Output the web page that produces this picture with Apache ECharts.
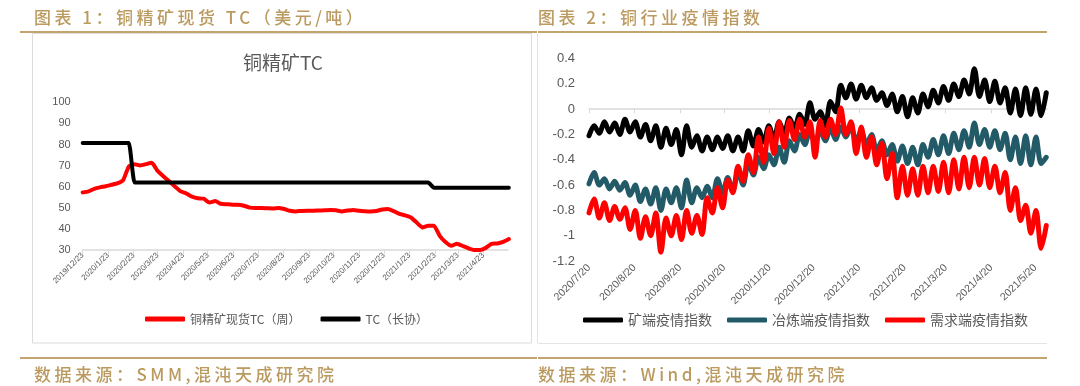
<!DOCTYPE html>
<html><head><meta charset="utf-8">
<script src="https://cdn.jsdelivr.net/npm/echarts@6/dist/echarts.min.js"></script>
<style>
html,body{margin:0;padding:0;background:#fff;}
#c{width:1080px;height:386px;position:absolute;left:0;top:0;}
.hd{position:absolute;font-family:"Noto Sans CJK SC","Noto Sans",sans-serif;color:#bb9a5f;font-size:17px;font-weight:500;letter-spacing:3.5px;white-space:nowrap;line-height:20px;}
</style></head><body>
<div id="c"></div>
<div class="hd" style="left:34px;top:7px">图表 1：铜精矿现货 TC（美元/吨）</div>
<div class="hd" style="left:538px;top:7px">图表 2：铜行业疫情指数</div>
<div class="hd" style="left:34px;top:364px">数据来源：SMM,混沌天成研究院</div>
<div class="hd" style="left:538px;top:364px">数据来源：Wind,混沌天成研究院</div>
<script>
// ---------- Chart 1: copper concentrate TC (weekly) ----------
const spotStart = '2019/12/23';
const spotTC = [57.3,57.8,59.0,59.7,60.2,60.9,61.6,63.0,69.5,70.6,
70.1,70.7,71.3,67.5,65.0,62.6,60.1,57.8,56.8,55.3,
54.5,54.3,52.5,53.2,51.9,51.7,51.5,51.5,51.0,50.1,
49.9,49.9,49.8,49.7,49.9,49.4,48.6,48.3,48.5,48.6,
48.6,48.7,48.8,49.0,48.8,48.3,48.7,49.0,48.6,48.4,
48.3,48.5,49.2,49.4,48.4,47.1,46.4,45.4,43.0,40.7,
41.5,41.5,36.7,33.8,32.0,33.0,31.9,30.8,30.0,30.0,
31.0,32.9,33.1,33.8,35.2];
const longTC = [80.75,80.75,80.75,80.75,80.75,80.75,80.75,80.75,80.75,
62,62,62,62,62,62,62,62,62,62,62,62,62,62,62,62,62,62,62,62,62,62,62,62,62,62,
62,62,62,62,62,62,62,62,62,62,62,62,62,62,62,62,62,62,62,62,62,62,62,62,62,62,
59.5,59.5,59.5,59.5,59.5,59.5,59.5,59.5,59.5,59.5,59.5,59.5,59.5,59.5];
const tcTicks = ['2019/12/23','2020/1/23','2020/2/23','2020/3/23','2020/4/23','2020/5/23','2020/6/23',
'2020/7/23','2020/8/23','2020/9/23','2020/10/23','2020/11/23','2020/12/23','2021/1/23','2021/2/23',
'2021/3/23','2021/4/23'];
const tcAxisEnd = '2021/5/23';

// ---------- Chart 2: copper industry epidemic indices (half-weekly) ----------
const idxStart = '2020/7/20';
const mineIdx = [-0.21,-0.13,-0.19,-0.10,-0.18,-0.11,-0.20,-0.08,-0.18,-0.10,
-0.22,-0.12,-0.25,-0.13,-0.30,-0.15,-0.28,-0.16,-0.36,-0.13,
-0.30,-0.21,-0.33,-0.22,-0.32,-0.22,-0.31,-0.21,-0.33,-0.22,
-0.33,-0.17,-0.29,-0.16,-0.26,-0.13,-0.24,-0.10,-0.19,-0.07,
-0.15,-0.04,-0.12,0.05,-0.08,-0.02,-0.13,0.06,-0.02,0.19,
0.09,0.20,0.08,0.19,0.09,0.17,0.07,0.13,0.03,0.12,
-0.02,0.10,-0.06,0.09,-0.03,0.12,0.02,0.15,0.05,0.18,
0.07,0.20,0.10,0.23,0.12,0.32,0.10,0.23,0.06,0.22,
0.05,0.17,-0.03,0.16,-0.05,0.17,-0.04,0.16,-0.05,0.13];
const smeltIdx = [-0.59,-0.50,-0.60,-0.55,-0.63,-0.57,-0.64,-0.58,-0.68,-0.60,
-0.73,-0.63,-0.75,-0.62,-0.80,-0.63,-0.74,-0.62,-0.78,-0.56,
-0.74,-0.62,-0.70,-0.61,-0.70,-0.55,-0.66,-0.54,-0.64,-0.50,
-0.60,-0.42,-0.52,-0.38,-0.47,-0.36,-0.44,-0.30,-0.42,-0.25,
-0.33,-0.20,-0.28,-0.17,-0.27,-0.17,-0.25,-0.15,-0.24,-0.14,
-0.22,-0.14,-0.25,-0.17,-0.28,-0.20,-0.33,-0.25,-0.36,-0.28,
-0.41,-0.29,-0.43,-0.30,-0.44,-0.28,-0.38,-0.24,-0.36,-0.21,
-0.35,-0.19,-0.32,-0.17,-0.30,-0.11,-0.28,-0.16,-0.30,-0.17,
-0.32,-0.19,-0.40,-0.22,-0.43,-0.21,-0.44,-0.22,-0.43,-0.38];
const demandIdx = [-0.82,-0.71,-0.86,-0.74,-0.88,-0.77,-0.87,-0.78,-0.95,-0.80,
-1.02,-0.85,-1.00,-0.82,-1.13,-0.86,-1.00,-0.84,-1.03,-0.80,
-0.98,-0.84,-0.99,-0.70,-0.82,-0.62,-0.78,-0.56,-0.66,-0.45,
-0.57,-0.36,-0.50,-0.22,-0.42,-0.15,-0.35,-0.10,-0.30,-0.09,
-0.24,-0.08,-0.22,-0.10,-0.38,-0.09,-0.22,-0.08,-0.20,0.01,
-0.20,-0.10,-0.35,-0.14,-0.38,-0.22,-0.44,-0.27,-0.55,-0.35,
-0.70,-0.45,-0.68,-0.47,-0.68,-0.45,-0.66,-0.45,-0.65,-0.42,
-0.66,-0.40,-0.63,-0.38,-0.62,-0.38,-0.60,-0.39,-0.62,-0.45,
-0.66,-0.50,-0.80,-0.62,-0.88,-0.76,-0.98,-0.80,-1.10,-0.92];
const idxTicks = ['2020/7/20','2020/8/20','2020/9/20','2020/10/20','2020/11/20','2020/12/20',
'2021/1/20','2021/2/20','2021/3/20','2021/4/20','2021/5/20'];
const idxAxisEnd = '2021/5/28';

// ---------- helpers ----------
const DAY = 86400000;
function parseD(s){const p=s.split('/').map(Number);return new Date(p[0],p[1]-1,p[2]).getTime();}
const t1 = parseD(spotStart), t2 = parseD(idxStart);
const asWeekly = arr => arr.map((v,i)=>[t1 + i*7*DAY, v]);
const asHalfWeek = arr => arr.map((v,i)=>[t2 + i*3.5*DAY, v]);
const tcTickTs = tcTicks.map(parseD);
const idxTickTs = idxTicks.map(parseD);
const tcLabel = v => { const k = tcTickTs.indexOf(v); return k >= 0 ? tcTicks[k] : ''; };
const idxLabel = v => { const k = idxTickTs.indexOf(v); return k >= 0 ? idxTicks[k] : ''; };

const GRAY = '#595959', AX = '#d9d9d9';
const CJK = '"Noto Sans CJK SC", "Liberation Sans", sans-serif';
const chart = echarts.init(document.getElementById('c'));
const lineS = (name, data, color, xi, w) => ({
  name, type:'line', data, xAxisIndex:xi, yAxisIndex:xi, symbol:'none', smooth: xi===1 ? 0.3 : 0.15,
  lineStyle:{color, width:w, cap:'round', join:'round'}, itemStyle:{color}
});
chart.setOption({
  animation:false,
  textStyle:{fontFamily:CJK},
  grid:[
    {left:82.7, right:572, top:102.3, bottom:136},
    {left:589, right:33, top:58.6, bottom:125}
  ],
  xAxis:[
    {type:'value', gridIndex:0, min:parseD(spotStart), max:parseD(tcAxisEnd), scale:true,
     axisLine:{lineStyle:{color:AX,width:1.5}},
     axisTick:{show:true, customValues:tcTickTs, length:4, lineStyle:{color:AX}},
     axisLabel:{customValues:tcTickTs, formatter:tcLabel, rotate:45, fontSize:8, color:GRAY, margin:4, fontFamily:'"Liberation Sans", sans-serif'},
     splitLine:{show:false}},
    {type:'value', gridIndex:1, min:parseD(idxStart), max:parseD(idxAxisEnd), scale:true,
     axisLine:{lineStyle:{color:AX,width:1.5}},
     axisTick:{show:true, customValues:idxTickTs, length:4, lineStyle:{color:AX}},
     axisLabel:{customValues:idxTickTs, formatter:idxLabel, rotate:45, fontSize:10.5, color:GRAY, margin:5, fontFamily:'"Liberation Sans", sans-serif'},
     splitLine:{show:false}}
  ],
  yAxis:[
    {type:'value', gridIndex:0, min:30, max:100, interval:10,
     axisLine:{show:false}, axisTick:{show:false}, splitLine:{show:false},
     axisLabel:{fontSize:11, color:GRAY, margin:12, fontFamily:'"Liberation Sans", sans-serif'}},
    {type:'value', gridIndex:1, min:-1.2, max:0.4, interval:0.2,
     axisLine:{show:false}, axisTick:{show:false}, splitLine:{show:false},
     axisLabel:{fontSize:13, color:GRAY, margin:14, fontFamily:'"Liberation Sans", sans-serif',
       formatter:v=>String(Math.round(v*10)/10)}}
  ],
  legend:[
    {data:['铜精矿现货TC（周）','TC（长协）'], left:140, top:308, icon:'roundRect',
     itemWidth:40, itemHeight:5, itemGap:20, textStyle:{fontSize:12, color:GRAY}},
    {data:['矿端疫情指数','冶炼端疫情指数','需求端疫情指数'], left:578, top:308, icon:'roundRect',
     itemWidth:40, itemHeight:5, itemGap:15, textStyle:{fontSize:14, color:GRAY}}
  ],
  graphic:[
    {type:'line', shape:{x1:20,y1:32,x2:537,y2:32}, style:{stroke:'#c3a46c', lineWidth:2}},
    {type:'line', shape:{x1:538,y1:32,x2:1047,y2:32}, style:{stroke:'#c3a46c', lineWidth:2}},
    {type:'line', shape:{x1:20,y1:358,x2:537,y2:358}, style:{stroke:'#c3a46c', lineWidth:2}},
    {type:'line', shape:{x1:538,y1:358,x2:1047,y2:358}, style:{stroke:'#c3a46c', lineWidth:2}},
    {type:'rect', shape:{x:32.5,y:33.5,width:499,height:309.5}, style:{fill:'none', stroke:'#dcdcdc', lineWidth:1}},
    {type:'line', shape:{x1:537.5,y1:33,x2:537.5,y2:343}, style:{stroke:'#e4e4e4', lineWidth:1}},
    {type:'line', shape:{x1:538,y1:343.5,x2:1047,y2:343.5}, style:{stroke:'#e4e4e4', lineWidth:1}},
    {type:'text', x:283, y:63, style:{text:'铜精矿TC', fill:GRAY, font:'19px "Noto Sans CJK SC"', align:'center', verticalAlign:'middle'}}
  ],
  series:[
    lineS('铜精矿现货TC（周）', asWeekly(spotTC), '#ff0000', 0, 4),
    lineS('TC（长协）', asWeekly(longTC), '#000000', 0, 4),
    lineS('矿端疫情指数', asHalfWeek(mineIdx), '#000000', 1, 5),
    lineS('冶炼端疫情指数', asHalfWeek(smeltIdx), '#235a68', 1, 5),
    lineS('需求端疫情指数', asHalfWeek(demandIdx), '#ff0000', 1, 5)
  ]
});
</script>
</body></html>
